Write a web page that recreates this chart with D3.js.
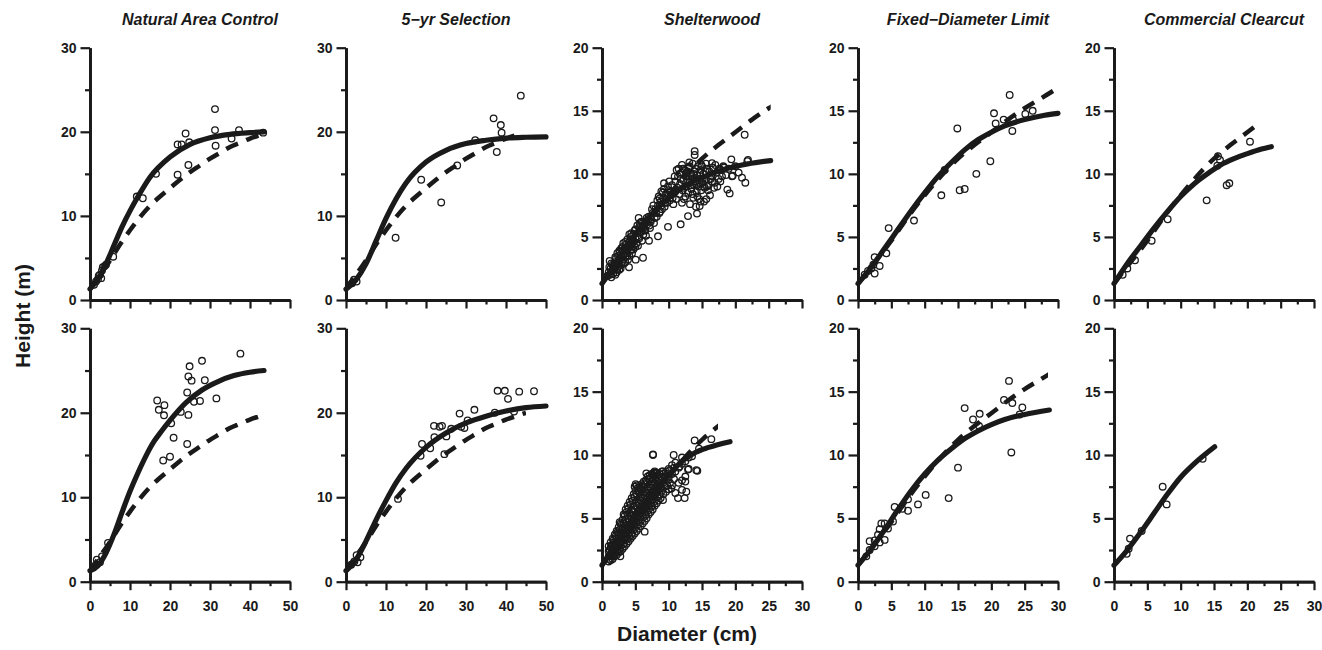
<!DOCTYPE html>
<html><head><meta charset="utf-8">
<script src="https://cdn.jsdelivr.net/npm/d3@7"></script>
<style>
body{margin:0;background:#fff}
text{font-family:"Liberation Sans",Arial,Helvetica,sans-serif;fill:#1a1a1a}
</style>
</head><body>
<svg id="c" width="1322" height="650"></svg>
<script>
// ---------------- DATA ----------------
const panelTitles = ["Natural Area Control", "5\u2212yr Selection", "Shelterwood", "Fixed\u2212Diameter Limit", "Commercial Clearcut"];
const xMaxByCol = [50, 50, 30, 30, 30];
const yMaxByCol = [30, 30, 20, 20, 20];
const xMajor50 = [0, 10, 20, 30, 40, 50];
const xMinor50 = [5, 15, 25, 35, 45];
const xMajor30 = [0, 5, 10, 15, 20, 25, 30];
const xMinor30 = [2.5, 7.5, 12.5, 17.5, 22.5, 27.5];
const yMajor30 = [0, 10, 20, 30];
const yMinor30 = [5, 15, 25];
const yMajor20 = [0, 5, 10, 15, 20];
const yMinor20 = [2.5, 7.5, 12.5, 17.5];

// regional (dashed) height-diameter curve, shared by all panels
const regionalCurve = [[0,1.3],[2.5,3.0],[5,4.7],[7.5,6.6],[10,8.3],[12.5,9.85],[15,11.2],[17.5,12.3],[20,13.3],[22.5,14.3],[25,15.2],[27.5,16.0],[30,16.8],[32.5,17.5],[35,18.2],[37.5,18.7],[40,19.2],[42.5,19.6],[45,20.0]];
// diameter up to which the dashed curve is shown, per panel (top row, bottom row)
const dashEndTop = [43.5, 44, 25.3, 29.7, 21.4];
const dashEndBottom = [43.5, 45, 17.4, 28.5, 0];

// fitted (solid) curves
const natTopFit = [[0,1.3],[2,2.5],[4,4.3],[6,6.5],[8,8.7],[10,10.6],[12,12.3],[15,14.6],[20,17.0],[25,18.5],[30,19.3],[35,19.7],[40,19.9],[43.5,20.0]];
const selTopFit = [[0,1.3],[2.5,2.4],[5,4.3],[7.5,7.0],[10,9.7],[12.5,12.0],[15,13.9],[20,16.4],[25,17.8],[30,18.6],[35,19.0],[40,19.25],[45,19.35],[50,19.4]];
const shelTopFit = [[0,1.3],[2,2.9],[4,4.5],[6,5.9],[8,7.1],[10,8.1],[12,8.9],[15,9.7],[18,10.3],[21,10.7],[25.3,11.05]];
const fixTopFit = [[0,1.3],[2,2.6],[4,4.1],[6,5.6],[8,7.1],[10,8.5],[12,9.8],[14,10.9],[16,11.9],[18,12.7],[20,13.3],[22,13.8],[25,14.3],[28,14.65],[30,14.8]];
const ccTopFit = [[0,1.3],[2,2.9],[4,4.3],[6,5.7],[8,7.0],[10,8.2],[12,9.2],[14,10.0],[16,10.7],[18,11.2],[20,11.6],[22,11.95],[23.6,12.15]];
const natBotFit = [[0,1.3],[2,1.9],[4,3.4],[6,5.6],[8,8.2],[10,10.7],[12,12.9],[14,14.9],[16,16.6],[18,17.9],[20,19.1],[24,21.2],[28,22.7],[32,23.7],[36,24.4],[40,24.8],[43.5,25.0]];
const selBotFit = [[0,1.3],[2.5,2.6],[5,4.8],[7.5,7.3],[10,9.6],[12.5,11.7],[15,13.4],[20,15.9],[25,17.6],[30,18.8],[35,19.6],[40,20.2],[45,20.6],[50,20.8]];
const shelBotFit = [[0,1.3],[2,2.9],[4,4.4],[6,5.8],[8,7.2],[10,8.4],[12,9.5],[14,10.2],[16,10.6],[19.2,11.05]];
const fixBotFit = [[0,1.3],[2,2.6],[4,4.1],[6,5.7],[8,7.2],[10,8.5],[12,9.6],[14,10.5],[16,11.3],[18,11.9],[20,12.4],[22,12.8],[25,13.2],[28.7,13.55]];
const ccBotFit = [[0,1.3],[2,2.5],[4,3.9],[6,5.4],[8,6.9],[10,8.25],[12,9.3],[15.1,10.65]];

// observed trees (diameter cm, height m)
const natTopObs = [[21.9,18.5],[22.9,18.5],[23.9,19.8],[24.8,18.75],[21.9,14.9],[24.6,16.05],[31.25,22.7],[31.25,20.2],[31.4,18.35],[35.4,19.2],[37.25,20.2],[13.2,12.1],[11.7,12.3],[5.8,5.15],[16.5,15.0],[1.0,1.8],[1.5,2.2],[2.0,2.5],[2.5,3.0],[2.8,2.6],[3.0,3.5],[3.2,3.9],[3.6,4.0],[4.0,4.2],[2.2,2.9],[43.3,19.9]];
const selTopObs = [[2.65,2.2],[12.4,7.4],[18.8,14.3],[23.8,11.6],[27.8,16.0],[32.3,19.0],[36.9,21.6],[38.7,20.8],[38.9,19.9],[37.7,17.6],[43.7,24.3],[1.5,2.0],[2.0,2.4]];
const shelTopObs = [[21.4,13.1],[13.9,11.8],[13.9,11.5],[9.3,9.25],[8.9,8.6],[8.65,8.05],[5.5,6.5],[6.15,3.35],[5.05,3.2],[4.05,2.6],[1.15,3.1],[8.4,5.05],[7.05,4.7],[9.9,5.8],[11.8,6.0],[12.9,6.65],[14.25,6.85],[14.65,7.45],[15.65,8.0],[19.4,11.15],[21.8,11.0],[21.5,9.3],[19.5,9.8],[19.15,8.45],[18.8,8.75],[18.3,10.5],[16.5,10.85],[17.75,9.4],[15.75,9.0],[11.65,10.0],[12.15,10.4],[13.15,10.6],[14.9,10.7],[21.9,11.1],[19.6,9.85],
[0.8,1.9],[1.0,2.2],[1.2,2.0],[1.3,2.5],[1.5,2.3],[1.6,2.8],[1.8,2.4],[1.9,3.0],[2.0,2.6],[2.1,3.3],[2.2,2.2],[2.3,2.9],[2.4,3.5],[2.5,2.7],[2.6,3.2],[2.7,3.8],[2.8,2.5],[2.9,3.4],[3.0,3.0],[3.0,3.9],[3.1,4.2],[3.2,3.6],[3.3,2.9],[3.4,4.0],[3.5,3.4],[3.6,4.4],[3.7,3.8],[3.8,4.8],[3.9,3.2],[4.0,4.2],[4.1,4.6],[4.2,3.9],[4.3,5.0],[4.4,4.4],[4.5,3.7],[4.6,4.8],[4.7,5.2],[4.8,4.3],[4.9,5.5],[5.0,4.9],[5.2,4.5],[5.3,5.3],[5.5,5.0],[5.6,5.8],[5.8,5.4],[6.0,4.7],[6.1,5.9],[6.3,5.5],[6.5,6.2],[6.6,5.1],[6.8,6.0],[7.0,6.6],[7.2,5.7],[7.4,6.4],[7.6,6.9],[7.8,6.1],[8.0,7.2],[8.2,6.6],[8.4,7.5],[8.6,6.9],[8.8,7.8],[9.0,7.2],[9.2,8.1],[9.4,7.4],[9.6,8.4],[9.8,7.7],[10.0,8.7],[10.2,7.9],[10.4,8.3],[10.5,9.1],[10.7,7.6],[10.8,8.6],[11.0,9.4],[11.1,8.0],[11.3,8.9],[11.4,9.8],[11.6,8.4],[11.7,9.2],[11.9,10.1],[12.0,7.7],[12.1,8.7],[12.2,9.5],[12.4,10.3],[12.5,8.2],[12.6,9.0],[12.7,9.8],[12.9,8.5],[13.0,10.5],[13.1,9.3],[13.2,7.6],[13.3,10.0],[13.4,8.8],[13.5,9.6],[13.6,10.8],[13.7,8.1],[13.8,9.1],[13.9,10.2],[14.0,9.4],[14.1,7.4],[14.2,8.6],[14.3,9.9],[14.4,10.6],[14.5,9.0],[14.6,8.0],[14.7,9.6],[14.8,10.3],[14.9,8.7],[15.0,9.3],[15.2,10.0],[15.3,7.8],[15.4,8.9],[15.6,9.6],[15.8,10.4],[16.0,9.1],[16.2,8.3],[16.4,9.8],[16.6,10.5],[16.9,9.3],[17.2,10.1],[17.5,9.6],
[1.4,1.8],[1.7,2.1],[2.0,3.4],[2.3,2.4],[2.6,3.9],[2.9,2.8],[3.2,4.5],[3.5,3.0],[3.8,4.2],[4.1,3.5],[4.4,5.3],[4.7,4.0],[5.0,5.6],[5.4,4.3],[5.7,6.1],[6.2,5.2],[6.7,6.5],[7.1,5.9],[7.5,7.2],[7.9,6.5],[8.3,7.9],[8.7,7.0],[9.1,8.5],[9.5,7.7],[9.9,9.0],[10.3,8.6],[10.9,9.8],[11.5,10.4],[12.3,8.9],[12.8,10.2],[13.3,9.1],[13.8,10.0],[14.2,9.2],[14.7,10.1],[15.1,9.6],[15.6,10.8],[16.1,10.2],[16.5,9.4],[17.0,10.7],[17.8,10.3],[18.2,10.6],
[1.1,2.6],[1.4,2.9],[1.7,2.6],[2.0,2.0],[2.3,3.7],[2.6,2.4],[2.9,4.1],[3.2,3.2],[3.5,4.6],[3.8,3.5],[4.1,5.2],[4.4,4.0],[4.7,4.6],[5.0,4.2],[5.3,5.9],[5.6,4.9],[5.9,6.2],[6.2,5.7],[6.5,5.5],[6.9,6.4],[7.3,6.2],[7.7,7.5],[8.1,6.9],[8.5,8.2],[8.9,7.5],[9.3,8.8],[9.7,8.0],[10.1,9.4],[10.6,8.1],[11.0,8.6],[11.2,10.3],[11.8,9.6],[12.0,10.7],[12.3,8.0],[12.6,10.0],[12.9,9.4],[13.1,10.9],[13.4,9.9],[13.6,8.4],[13.9,9.6],[14.1,10.4],[14.3,8.2],[14.6,9.3],[14.8,7.8],[15.0,10.6],[15.3,9.0],[15.5,10.2],[15.9,8.7],[16.3,9.6],[16.8,8.9],[17.3,9.0],[17.6,10.4],[18.0,9.8],[18.6,9.9],[19.0,10.4],[20.0,10.6],[20.5,10.1],[21.0,9.7]];
const fixTopObs = [[4.6,5.7],[8.4,6.3],[12.5,8.3],[14.9,13.6],[15.25,8.7],[16.0,8.8],[17.75,10.0],[19.85,11.0],[20.4,14.8],[20.65,14.0],[21.85,14.3],[22.75,16.25],[23.25,14.3],[23.15,13.4],[25.1,14.75],[26.2,15.0],[13.0,10.3],[2.5,3.4],[3.25,2.7],[2.5,2.1],[2.3,2.8],[4.25,3.7],[2.0,2.5],[1.0,2.0],[1.5,2.3]];
const ccTopObs = [[3.15,3.15],[5.65,4.7],[8.05,6.4],[13.9,7.9],[15.6,11.4],[15.9,11.1],[15.5,10.65],[16.9,9.1],[17.3,9.25],[20.4,12.55],[1.3,2.0],[2.0,2.5]];
const natBotObs = [[16.8,21.45],[17.2,20.35],[18.6,20.9],[18.5,19.7],[20.3,18.75],[18.3,14.35],[20.0,14.8],[20.9,17.05],[22.7,20.1],[24.3,22.4],[24.6,24.3],[24.9,25.5],[25.4,23.8],[26.0,21.3],[24.6,19.75],[24.3,16.3],[27.5,21.4],[28.0,26.15],[28.7,23.85],[31.6,21.7],[37.6,27.0],[1.7,2.6],[1.5,2.0],[2.5,2.3],[3.0,3.0],[4.5,4.6]];
const selBotObs = [[13.0,9.8],[18.65,14.9],[19.0,16.3],[21.05,15.8],[22.0,18.45],[23.4,18.35],[24.0,18.45],[22.1,17.1],[24.6,15.1],[25.1,17.2],[26.3,18.1],[28.4,19.9],[28.8,18.35],[29.6,18.2],[30.4,19.1],[32.1,20.35],[37.2,20.0],[37.9,22.6],[39.7,22.6],[40.5,21.65],[43.3,22.5],[42.0,20.15],[47.0,22.55],[2.65,3.15],[2.9,2.3],[1.3,2.0],[2.1,2.4],[3.6,2.9]];
const shelBotObs = [[7.65,10.0],[10.75,10.0],[13.9,11.15],[14.55,10.5],[16.4,11.25],[14.3,8.75],[12.65,7.1],[12.0,7.25],[11.4,6.6],[12.5,7.9],[12.9,8.85],[11.65,9.1],[10.4,7.35],[9.15,6.45],[6.65,8.55],[7.9,8.7],[9.15,8.7],[6.4,3.95],[2.75,2.0],[12.4,6.6],[14.15,8.8],[7.65,10.05],
[1.0,1.6],[1.0,2.0],[1.0,2.4],[1.0,2.8],[1.3,1.7],[1.3,2.2],[1.3,2.7],[1.3,3.1],[1.6,1.8],[1.6,2.3],[1.6,2.9],[1.6,3.4],[1.9,2.0],[1.9,2.6],[1.9,3.1],[1.9,3.7],[2.2,2.1],[2.2,2.8],[2.2,3.4],[2.2,4.0],[2.5,2.3],[2.5,3.0],[2.5,3.7],[2.5,4.3],[2.8,2.4],[2.8,3.2],[2.8,3.9],[2.8,4.6],[3.1,2.6],[3.1,3.4],[3.1,4.2],[3.1,4.9],[3.4,2.8],[3.4,3.6],[3.4,4.4],[3.4,5.2],[3.7,3.0],[3.7,3.9],[3.7,4.7],[3.7,5.5],[4.0,3.2],[4.0,4.1],[4.0,5.0],[4.0,5.8],[4.3,3.4],[4.3,4.3],[4.3,5.2],[4.3,6.1],[4.6,3.6],[4.6,4.5],[4.6,5.5],[4.6,6.4],[4.9,3.8],[4.9,4.8],[4.9,5.7],[4.9,6.7],[4.9,7.5],[5.2,4.0],[5.2,5.0],[5.2,6.0],[5.2,6.9],[5.2,7.6],[5.5,4.2],[5.5,5.2],[5.5,6.2],[5.5,7.1],[5.8,4.4],[5.8,5.4],[5.8,6.4],[5.8,7.3],[6.1,4.6],[6.1,5.6],[6.1,6.6],[6.1,7.5],[6.4,4.8],[6.4,5.8],[6.4,6.8],[6.4,7.7],[6.7,5.0],[6.7,6.0],[6.7,7.0],[6.7,7.9],[7.0,5.3],[7.0,6.2],[7.0,7.2],[7.0,8.1],[7.3,5.5],[7.3,6.4],[7.3,7.4],[7.3,8.2],[7.6,5.7],[7.6,6.7],[7.6,7.6],[7.6,8.4],[7.9,6.0],[7.9,6.9],[7.9,7.8],[7.9,8.5],[8.2,6.2],[8.2,7.1],[8.2,8.0],[8.2,8.6],[8.5,6.4],[8.5,7.3],[8.5,8.1],[8.8,6.6],[8.8,7.5],[8.8,8.3],[9.2,6.9],[9.2,7.8],[9.2,8.5],[9.6,7.1],[9.6,8.0],[9.6,8.7],[10.0,7.3],[10.0,8.2],[10.0,8.9],[10.5,7.6],[10.5,8.5],[10.5,9.2],[11.0,7.0],[11.0,8.7],[11.0,9.4],[11.5,7.8],[11.5,9.0],[12.0,8.0],[12.0,9.3],[12.0,9.8],[12.5,8.3],[12.5,9.5],[13.0,8.9],[13.0,9.8],[13.5,9.9],
[1.15,1.8],[1.15,2.5],[1.45,2.0],[1.45,2.9],[1.75,2.1],[1.75,2.7],[1.75,3.3],[2.05,2.3],[2.05,3.0],[2.05,3.6],[2.35,2.5],[2.35,3.2],[2.35,3.9],[2.65,2.6],[2.65,3.4],[2.65,4.1],[2.65,4.7],[2.95,2.9],[2.95,3.7],[2.95,4.5],[3.25,3.0],[3.25,3.8],[3.25,4.6],[3.25,5.3],[3.55,3.3],[3.55,4.1],[3.55,4.9],[3.55,5.7],[3.85,3.4],[3.85,4.3],[3.85,5.2],[3.85,6.0],[4.15,3.6],[4.15,4.5],[4.15,5.4],[4.15,6.3],[4.45,3.8],[4.45,4.8],[4.45,5.7],[4.45,6.6],[4.75,4.1],[4.75,5.0],[4.75,6.0],[4.75,6.9],[5.05,4.3],[5.05,5.3],[5.05,6.3],[5.05,7.2],[5.05,7.7],[5.35,4.5],[5.35,5.5],[5.35,6.5],[5.35,7.4],[5.65,4.7],[5.65,5.7],[5.65,6.7],[5.65,7.5],[5.95,4.9],[5.95,5.9],[5.95,6.9],[5.95,7.7],[6.25,5.1],[6.25,6.1],[6.25,7.1],[6.25,7.9],[6.55,5.3],[6.55,6.3],[6.55,7.3],[6.55,8.0],[6.85,5.6],[6.85,6.6],[6.85,7.5],[6.85,8.3],[7.15,5.8],[7.15,6.8],[7.15,7.7],[7.15,8.4],[7.45,6.0],[7.45,7.0],[7.45,7.9],[7.45,8.5],[7.75,6.3],[7.75,7.2],[7.75,8.1],[7.75,8.6],[8.05,6.5],[8.05,7.4],[8.05,8.2],[8.35,6.7],[8.35,7.6],[8.35,8.4],[8.65,6.9],[8.65,7.8],[8.65,8.5],[9.0,7.2],[9.0,8.0],[9.0,8.7],[9.4,7.5],[9.4,8.2],[9.8,7.6],[9.8,8.5],[10.2,7.8],[10.2,8.8],[10.8,8.1],[10.8,9.0]];
const fixBotObs = [[16.0,13.7],[17.25,12.8],[18.25,13.25],[18.15,12.3],[15.0,9.0],[13.6,6.6],[21.9,14.35],[22.65,15.85],[23.15,14.1],[23.0,10.2],[24.65,13.75],[24.25,13.2],[10.15,6.85],[9.0,6.1],[7.5,5.6],[7.5,6.5],[6.65,5.75],[5.5,5.9],[5.25,4.75],[3.5,4.6],[4.0,4.6],[3.25,4.15],[4.5,4.2],[4.0,3.3],[3.25,3.1],[2.5,3.25],[1.75,3.2],[1.75,2.5],[1.25,2.0],[2.5,2.8],[3.0,3.7]];
const ccBotObs = [[2.4,3.4],[4.15,4.0],[1.9,2.2],[2.2,2.6],[7.3,7.5],[7.9,6.1],[13.3,9.7]];

// ---------------- LAYOUT ----------------
const fitsTop = [natTopFit, selTopFit, shelTopFit, fixTopFit, ccTopFit];
const fitsBot = [natBotFit, selBotFit, shelBotFit, fixBotFit, ccBotFit];
const obsTop = [natTopObs, selTopObs, shelTopObs, fixTopObs, ccTopObs];
const obsBot = [natBotObs, selBotObs, shelBotObs, fixBotObs, ccBotObs];

const svg = d3.select("#c");
const colX = [90, 346, 602, 858, 1114];
const panelW = 200;
const rows = [{top: 47.7, bottom: 300}, {top: 328.3, bottom: 581.7}];
const ink = "#1a1a1a";
const defs = svg.append("defs");

rows.forEach((row, r) => {
  for (let c = 0; c < 5; c++) {
    const xMax = xMaxByCol[c], yMax = yMaxByCol[c];
    const x = d3.scaleLinear().domain([0, xMax]).range([colX[c], colX[c] + panelW]);
    const y = d3.scaleLinear().domain([0, yMax]).range([row.bottom, row.top]);
    const g = svg.append("g");
    const xMaj = xMax === 50 ? xMajor50 : xMajor30, xMin = xMax === 50 ? xMinor50 : xMinor30;
    const yMaj = yMax === 30 ? yMajor30 : yMajor20, yMin = yMax === 30 ? yMinor30 : yMinor20;

    g.append("g").attr("class", "ax").attr("transform", `translate(0,${row.bottom})`)
      .call(d3.axisBottom(x).tickValues(xMin).tickSize(4.5).tickSizeOuter(0).tickFormat(""));
    g.append("g").attr("class", "ax").attr("transform", `translate(${colX[c]},0)`)
      .call(d3.axisLeft(y).tickValues(yMin).tickSize(5).tickSizeOuter(0).tickFormat(""));
    g.append("g").attr("class", "ax").attr("transform", `translate(0,${row.bottom})`)
      .call(d3.axisBottom(x).tickValues(xMaj).tickSize(8.5).tickSizeOuter(0).tickPadding(11)
        .tickFormat(r === 1 ? d3.format("d") : ""));
    g.append("g").attr("class", "ax").attr("transform", `translate(${colX[c]},0)`)
      .call(d3.axisLeft(y).tickValues(yMaj).tickSize(9.5).tickSizeOuter(0).tickPadding(4)
        .tickFormat(d3.format("d")));

    g.selectAll(".ax .domain").attr("stroke", ink).attr("stroke-width", 2.8);
    g.selectAll(".ax .tick line").attr("stroke", ink).attr("stroke-width", 2.2);
    g.selectAll(".ax .tick text").attr("font-size", 14).attr("font-weight", "bold")
      .attr("fill", ink).attr("font-family", "'Liberation Sans',Arial,sans-serif");

    const obs = r === 0 ? obsTop[c] : obsBot[c];
    g.append("g").selectAll("circle").data(obs).join("circle")
      .attr("cx", d => x(d[0])).attr("cy", d => y(d[1])).attr("r", 3.3)
      .attr("fill", "none").attr("stroke", ink).attr("stroke-width", 1.3);

    const line = d3.line().x(d => x(d[0])).y(d => y(d[1])).curve(d3.curveMonotoneX);

    const dEnd = r === 0 ? dashEndTop[c] : dashEndBottom[c];
    if (dEnd > 0) {
      const id = `clip${r}${c}`;
      defs.append("clipPath").attr("id", id).append("rect")
        .attr("x", x(0)).attr("y", row.top - 10).attr("width", x(dEnd) - x(0)).attr("height", row.bottom - row.top + 10);
      g.append("path").datum(regionalCurve).attr("d", line).attr("clip-path", `url(#${id})`)
        .attr("fill", "none").attr("stroke", ink).attr("stroke-width", 4.5).attr("stroke-dasharray", "13,9");
    }
    const fit = r === 0 ? fitsTop[c] : fitsBot[c];
    g.append("path").datum(fit).attr("d", line)
      .attr("fill", "none").attr("stroke", ink).attr("stroke-width", 5.2).attr("stroke-linecap", "round");

    if (r === 0) {
      svg.append("text").attr("x", colX[c] + panelW / 2 + 10).attr("y", 25)
        .attr("text-anchor", "middle").attr("font-size", 16).attr("font-weight", "bold")
        .attr("font-style", "italic").text(panelTitles[c]);
    }
  }
});

svg.append("text").attr("transform", "translate(30,316) rotate(-90)")
  .attr("text-anchor", "middle").attr("font-size", 21).attr("font-weight", "bold").text("Height (m)");
svg.append("text").attr("x", 687).attr("y", 641)
  .attr("text-anchor", "middle").attr("font-size", 21).attr("font-weight", "bold").text("Diameter (cm)");
</script>
</body></html>
